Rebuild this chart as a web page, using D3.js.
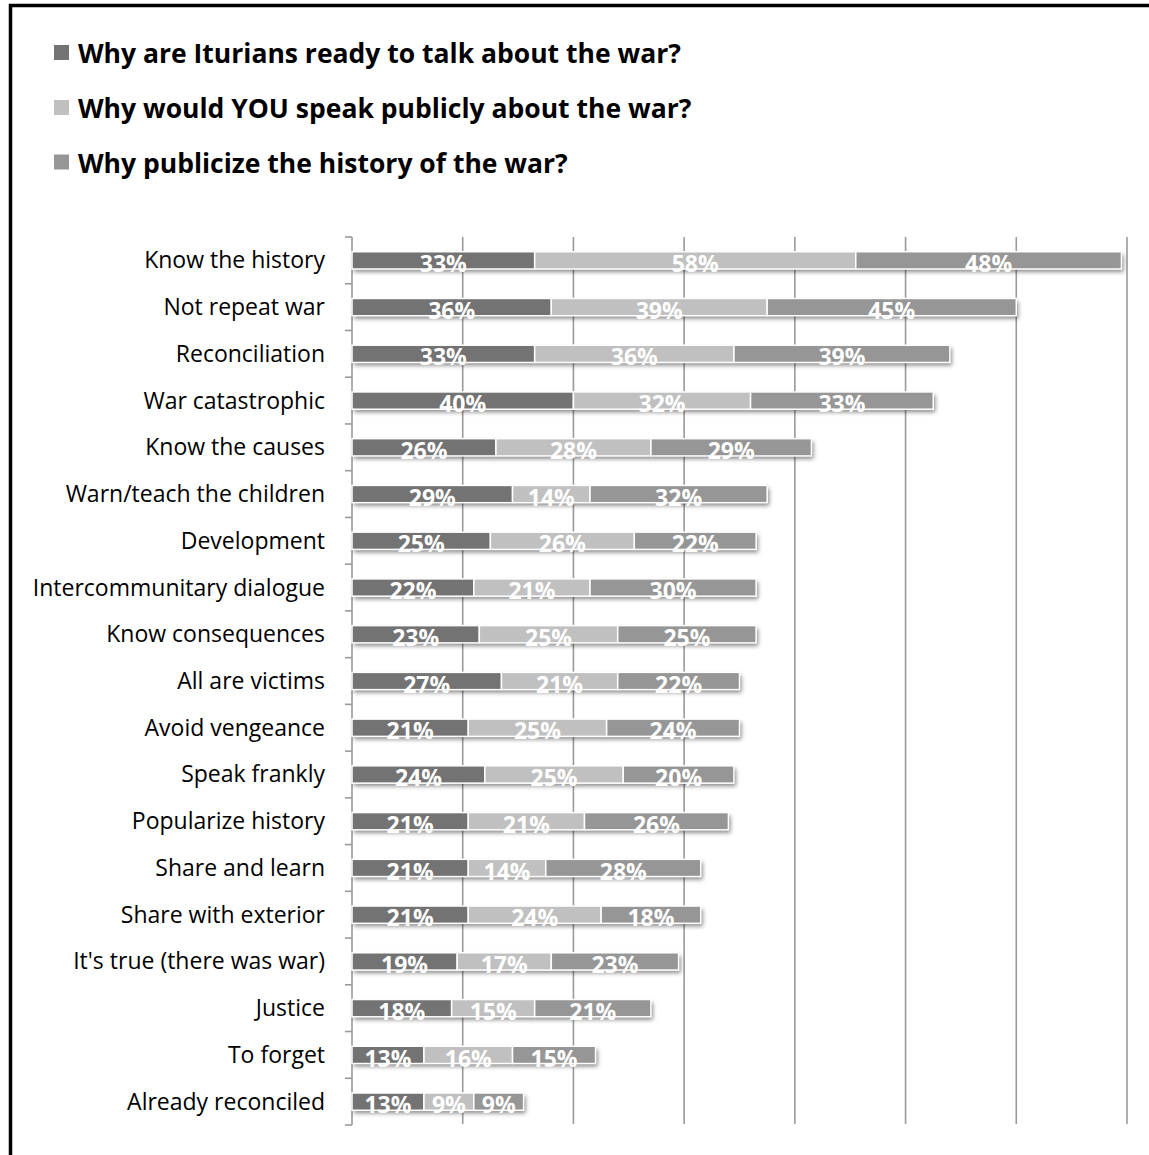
<!DOCTYPE html>
<html>
<head>
<meta charset="utf-8">
<script src="https://cdn.jsdelivr.net/npm/d3@7"></script>
<style>
  html, body { margin: 0; padding: 0; background: #fff; }
  svg { display: block; }
</style>
</head>
<body>
<div id="chart"></div>
<script>
// Reasons given for talking about the war, three survey questions stacked per reason
const categories = [
  "Know the history", "Not repeat war", "Reconciliation", "War catastrophic",
  "Know the causes", "Warn/teach the children", "Development",
  "Intercommunitary dialogue", "Know consequences", "All are victims",
  "Avoid vengeance", "Speak frankly", "Popularize history", "Share and learn",
  "Share with exterior", "It's true (there was war)", "Justice", "To forget",
  "Already reconciled"
];
const seriesNames = [
  "Why are Iturians ready to talk about the war?",
  "Why would YOU speak publicly about the war?",
  "Why publicize the history of the war?"
];
const readyToTalk = [33, 36, 33, 40, 26, 29, 25, 22, 23, 27, 21, 24, 21, 21, 21, 19, 18, 13, 13];
const speakPublicly = [58, 39, 36, 32, 28, 14, 26, 21, 25, 21, 25, 25, 21, 14, 24, 17, 15, 16, 9];
const publicizeHistory = [48, 45, 39, 33, 29, 32, 22, 30, 25, 22, 24, 20, 26, 28, 18, 23, 21, 15, 9];
const gridTicks = [0, 20, 40, 60, 80, 100, 120, 140];
const seriesColors = ["#737373", "#c0c0c0", "#969696"];

const W = 1149, H = 1155;
const svg = d3.select("#chart").append("svg").attr("width", W).attr("height", H);

const defs = svg.append("defs");
const shadow = defs.append("filter").attr("id", "barShadow")
  .attr("x", "-5%").attr("y", "-30%").attr("width", "115%").attr("height", "180%");
shadow.append("feDropShadow").attr("dx", 2).attr("dy", 3).attr("stdDeviation", 2)
  .attr("flood-color", "#000").attr("flood-opacity", 0.45);

// outer frame
svg.append("rect").attr("x", 10.5).attr("y", 5.5).attr("width", 1400).attr("height", 1400)
  .attr("fill", "none").attr("stroke", "#000").attr("stroke-width", 3.5);

const x = d3.scaleLinear().domain([0, 140]).range([352, 1127]);
const y = d3.scaleBand().domain(categories).range([237, 1125])
  .paddingInner(0.63).paddingOuter(0.315);
const slot = d3.scaleBand().domain(categories).range([237, 1125]);

// vertical gridlines
svg.append("g").selectAll("line").data(gridTicks.slice(1)).join("line")
  .attr("x1", d => x(d)).attr("x2", d => x(d))
  .attr("y1", 237).attr("y2", 1124)
  .attr("stroke", "#9a9a9a").attr("stroke-width", 1.6);

// category axis with ticks at slot boundaries
const axis = svg.append("g");
axis.append("line").attr("x1", x(0)).attr("x2", x(0)).attr("y1", 237).attr("y2", 1125)
  .attr("stroke", "#9a9a9a").attr("stroke-width", 1.6);
const bounds = categories.map(c => slot(c)).concat([1125]);
axis.selectAll("line.tk").data(bounds).join("line").attr("class", "tk")
  .attr("x1", x(0) - 7).attr("x2", x(0)).attr("y1", d => d).attr("y2", d => d)
  .attr("stroke", "#9a9a9a").attr("stroke-width", 1.6);

axis.selectAll("text").data(categories).join("text")
  .attr("x", 325).attr("y", d => slot(d) + slot.bandwidth() / 2 + 8)
  .attr("text-anchor", "end")
  .attr("font-family", "'Open Sans', sans-serif").attr("font-size", 23)
  .attr("fill", "#000").text(d => d);

// stacked bars
const rows = categories.map((c, i) => ({ c, v: [readyToTalk[i], speakPublicly[i], publicizeHistory[i]] }));
const segs = [];
rows.forEach(r => {
  let acc = 0;
  r.v.forEach((v, k) => { segs.push({ c: r.c, k, v, x0: acc, x1: acc + v }); acc += v; });
});

const bars = svg.append("g");
rows.forEach(r => {
  const total = d3.sum(r.v);
  bars.append("rect").attr("x", x(0)).attr("y", y(r.c))
    .attr("width", x(total) - x(0)).attr("height", y.bandwidth())
    .attr("fill", "#fff").attr("filter", "url(#barShadow)");
});
bars.selectAll("rect.seg").data(segs).join("rect").attr("class", "seg")
  .attr("x", d => x(d.x0)).attr("y", d => y(d.c))
  .attr("width", d => x(d.x1) - x(d.x0)).attr("height", y.bandwidth())
  .attr("fill", d => seriesColors[d.k]).attr("stroke", "#fff").attr("stroke-width", 1.5);

svg.append("g").selectAll("text").data(segs).join("text")
  .attr("x", d => (x(d.x0) + x(d.x1)) / 2)
  .attr("y", d => y(d.c) + y.bandwidth() + 3)
  .attr("text-anchor", "middle")
  .attr("font-family", "'Open Sans', sans-serif").attr("font-weight", 700)
  .attr("font-size", 23).attr("fill", "#fff")
  .text(d => d.v + "%");

// legend
const legend = svg.append("g");
const legendY = [52.5, 107.5, 162];
seriesNames.forEach((n, i) => {
  legend.append("rect").attr("x", 54).attr("y", legendY[i] - 7.5).attr("width", 15).attr("height", 15)
    .attr("fill", seriesColors[i]);
  legend.append("text").attr("x", 78).attr("y", legendY[i] + 10.5)
    .attr("font-family", "'Open Sans', sans-serif").attr("font-weight", 700)
    .attr("font-size", 26.5).attr("fill", "#000").text(n);
});
</script>
</body>
</html>
